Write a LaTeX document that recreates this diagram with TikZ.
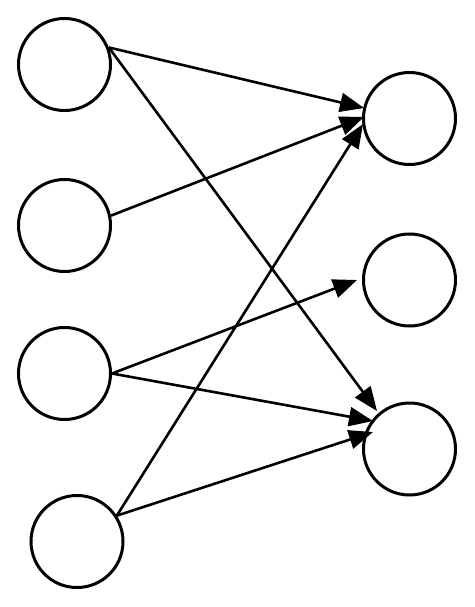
\documentclass[tikz,border=0pt]{standalone}
\usetikzlibrary{arrows.meta}
\begin{document}
\begin{tikzpicture}[x=1pt,y=-1pt,
  neuron/.style={circle,draw=black,line width=3pt,minimum size=92pt,inner sep=0pt},
  conn/.style={line width=2.6pt,-{Triangle[length=24pt,width=19pt]}}]
\useasboundingbox (0,0) rectangle (474,607);
\node[neuron] (l1) at (64.5,64.5) {};
\node[neuron] (l2) at (64.5,225.5) {};
\node[neuron] (l3) at (64.5,373.5) {};
\node[neuron] (l4) at (77,541.5) {};
\node[neuron] (r1) at (409.5,118.5) {};
\node[neuron] (r2) at (409.5,280) {};
\node[neuron] (r3) at (409.5,449) {};
\coordinate (t11) at (364,108);
\coordinate (t21) at (364,117);
\coordinate (t41) at (363,124);
\coordinate (t32) at (357,280);
\coordinate (t13) at (377,411);
\coordinate (t33) at (373,421);
\coordinate (t43) at (373,432);
\draw[conn] (l1.21) -- (t11);
\draw[conn] (l1.21) -- (t13);
\draw[conn] (l2.12) -- (t21);
\draw[conn] (l3.0) -- (t32);
\draw[conn] (l3.0) -- (t33);
\draw[conn] (l4.33) -- (t41);
\draw[conn] (l4.33) -- (t43);
\end{tikzpicture}
\end{document}
